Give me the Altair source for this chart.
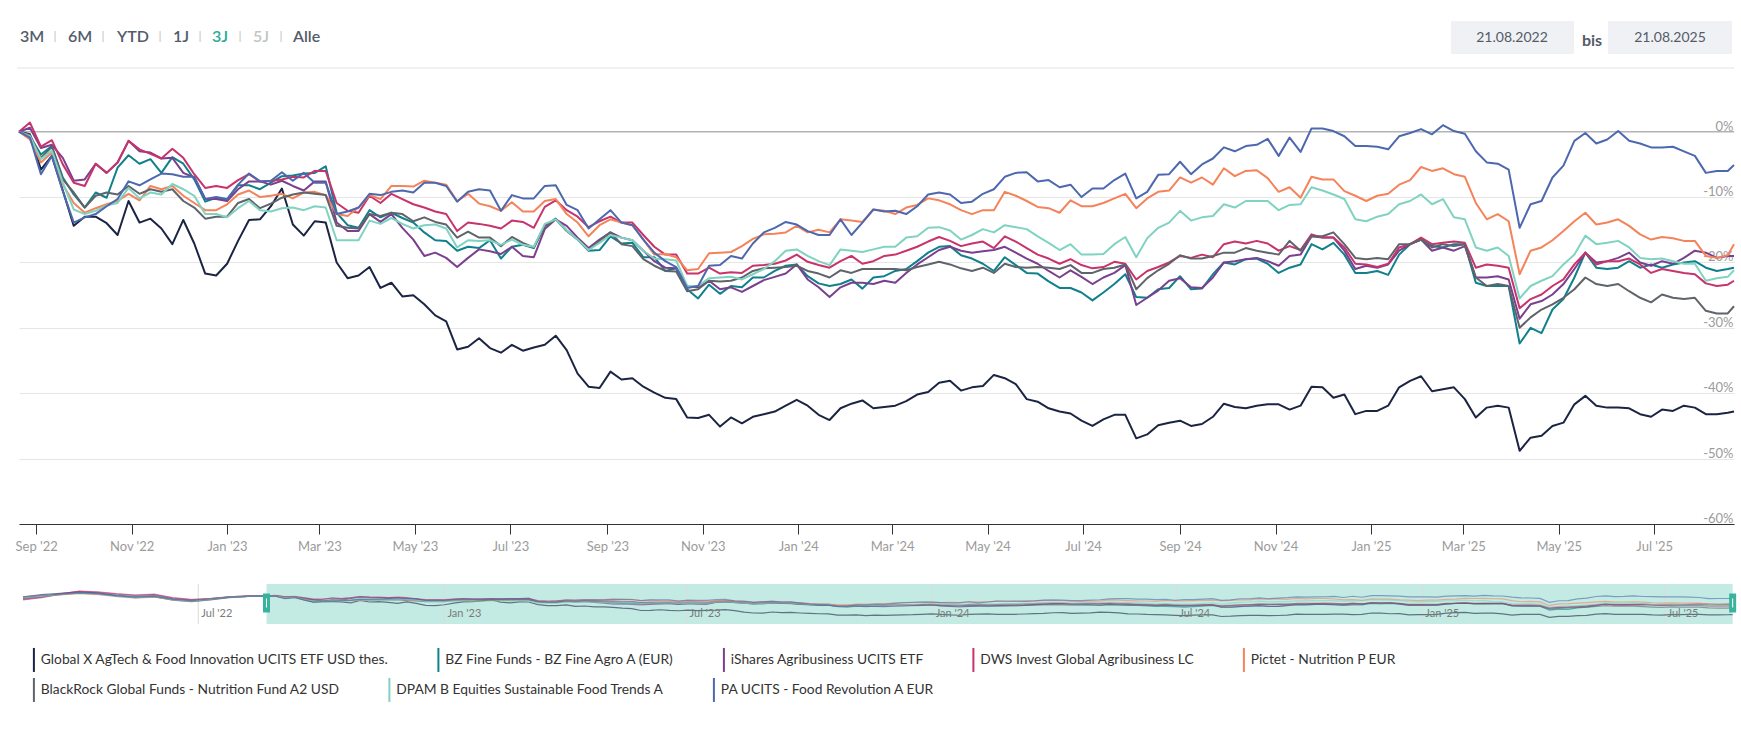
import altair as alt
import pandas as pd

series_names = [
    "Global X AgTech & Food Innovation UCITS ETF USD thes.",
    "BZ Fine Funds - BZ Fine Agro A (EUR)",
    "iShares Agribusiness UCITS ETF",
    "DWS Invest Global Agribusiness LC",
    "Pictet - Nutrition P EUR",
    "BlackRock Global Funds - Nutrition Fund A2 USD",
    "DPAM B Equities Sustainable Food Trends A",
    "PA UCITS - Food Revolution A EUR",
]
series_colors = ["#1b2543", "#10808c", "#7b3f8f", "#c8336b", "#f5835a", "#5f646b", "#80d3c1", "#4d68ae"]
legend_row_split = 5  # first legend row holds the first five funds

start_date = "2022-08-21"
week_count = 157
end_date = "2025-08-21"

global_x = [0, -0.4, -5.8, -3.7, -9.0, -14.4, -13.0, -13.0, -14.0, -15.8, -10.6, -13.9, -13.3, -14.8, -17.2, -13.5, -17.1, -21.7, -22.0, -20.2, -16.7, -13.5, -13.4, -11.4, -8.7, -14.2, -15.9, -13.7, -13.9, -20.0, -22.4, -22.0, -20.7, -23.9, -23.1, -25.2, -25.0, -26.4, -28.1, -29.0,
            -33.3, -32.9, -31.6, -33.1, -33.8, -32.6, -33.5, -33.0, -32.6, -31.2, -33.4, -37.0, -39.0, -39.2, -36.7, -37.9, -37.7, -39.0, -39.9, -40.7, -40.9, -43.7, -43.8, -43.3, -45.1, -43.7, -44.6, -43.6, -43.2, -42.8, -41.9, -41.0, -41.9, -43.3, -44.1, -42.3, -41.6, -41.1, -42.3, -42.1,
            -41.9, -41.2, -40.2, -39.8, -38.4, -38.1, -39.6, -39.1, -38.9, -37.2, -37.7, -38.6, -40.9, -41.3, -42.3, -42.8, -43.1, -44.2, -45.0, -44.0, -43.3, -43.3, -46.9, -46.3, -44.9, -44.5, -44.2, -45.0, -44.7, -43.6, -41.6, -42.1, -42.3, -41.9, -41.7, -41.7, -42.5, -41.9, -39.0, -39.1,
            -40.7, -40.2, -43.2, -42.7, -42.7, -41.9, -39.1, -38.1, -37.4, -39.7, -39.4, -39.1, -40.9, -43.7, -42.2, -41.9, -42.2, -48.8, -46.8, -46.5, -45.0, -44.5, -41.7, -40.4, -41.9, -42.2, -42.2, -42.3, -43.2, -43.6, -42.5, -42.7, -41.9, -42.2, -43.2, -43.2, -43.0, -42.8]
bz_fine = [0, -0.7, -3.5, -2.2, -7.0, -9.6, -11.6, -9.3, -10.1, -5.5, -3.6, -4.9, -4.2, -6.3, -3.9, -4.9, -7.3, -10.7, -10.1, -10.4, -8.2, -8.2, -8.8, -7.8, -6.8, -6.7, -6.4, -6.3, -5.3, -12.4, -14.3, -14.7, -12.0, -13.1, -12.4, -13.2, -13.9, -15.4, -16.6, -16.7,
           -18.2, -17.6, -17.8, -16.6, -19.4, -17.6, -17.3, -17.8, -14.4, -13.3, -15.1, -16.5, -18.2, -18.1, -16.0, -17.1, -17.0, -19.2, -19.2, -21.3, -20.9, -24.1, -25.5, -23.4, -24.8, -23.6, -23.8, -22.3, -22.3, -21.3, -20.5, -20.3, -22.1, -23.2, -23.6, -23.3, -22.6, -24.0, -22.3, -22.1,
           -21.3, -21.0, -19.8, -18.5, -17.6, -17.5, -18.9, -19.4, -20.2, -21.3, -19.2, -20.4, -21.6, -21.7, -22.9, -23.9, -23.9, -24.6, -25.8, -24.6, -23.3, -21.8, -25.3, -25.4, -24.1, -23.9, -22.1, -24.1, -24.0, -21.8, -20.0, -20.3, -19.5, -19.4, -20.2, -21.6, -20.8, -20.3, -17.2, -18.0,
           -17.0, -18.8, -21.6, -21.6, -21.3, -21.9, -18.8, -17.2, -16.5, -17.5, -17.7, -17.2, -17.2, -23.1, -23.6, -23.6, -23.6, -32.4, -30.0, -30.8, -27.2, -25.6, -22.3, -18.5, -20.8, -21.0, -20.8, -19.8, -20.8, -20.3, -20.8, -20.3, -20.0, -19.8, -20.8, -21.3, -21.0, -20.8]
ishares = [0, 0.6, -2.5, -2.0, -4.0, -7.5, -7.3, -4.9, -6.3, -4.7, -1.4, -3.0, -3.2, -4.1, -4.0, -6.3, -7.0, -10.3, -10.3, -10.6, -8.8, -7.6, -7.6, -8.1, -7.5, -8.3, -9.0, -7.6, -7.6, -13.9, -15.2, -15.2, -12.6, -13.8, -12.6, -14.7, -16.5, -19.0, -18.5, -19.3,
           -20.7, -19.3, -18.0, -18.3, -18.7, -17.6, -19.0, -19.2, -14.9, -13.4, -14.4, -16.2, -17.8, -16.5, -15.4, -16.2, -16.6, -18.2, -19.8, -20.8, -20.9, -23.6, -23.8, -22.8, -24.1, -23.8, -24.5, -23.6, -22.7, -22.2, -21.7, -20.3, -22.6, -23.8, -25.3, -23.8, -23.1, -23.1, -23.3, -22.8,
           -23.1, -21.6, -20.3, -19.2, -18.1, -17.6, -18.2, -18.5, -18.3, -18.1, -17.6, -18.5, -19.4, -20.2, -21.3, -22.3, -21.2, -22.2, -23.3, -22.3, -21.6, -20.4, -26.5, -25.4, -24.3, -22.8, -22.4, -23.8, -23.9, -22.3, -20.0, -19.8, -19.5, -19.3, -19.8, -20.5, -19.0, -18.8, -16.0, -16.2,
           -16.2, -18.2, -21.0, -20.5, -20.8, -20.3, -18.2, -17.2, -16.5, -18.2, -17.7, -18.2, -17.5, -22.3, -22.3, -22.1, -22.6, -28.6, -26.4, -25.9, -24.9, -23.3, -21.0, -18.5, -20.0, -19.8, -19.3, -18.5, -20.0, -20.5, -19.8, -20.2, -19.3, -18.2, -18.5, -19.3, -19.0, -19.0]
dws = [0, 1.4, -2.3, -1.3, -5.0, -7.8, -8.3, -4.9, -6.3, -4.7, -1.4, -2.7, -3.4, -4.1, -2.6, -4.0, -6.5, -8.6, -8.3, -8.6, -7.4, -6.5, -7.6, -7.5, -7.3, -6.9, -7.0, -6.0, -6.0, -10.9, -12.1, -12.4, -9.8, -10.9, -9.5, -10.3, -11.1, -11.6, -12.2, -12.6,
       -15.2, -13.9, -14.1, -14.4, -14.8, -13.6, -13.8, -14.7, -11.5, -10.5, -12.0, -13.0, -14.6, -13.7, -13.0, -13.9, -13.9, -15.8, -17.6, -18.8, -18.8, -21.7, -21.7, -20.8, -21.7, -21.5, -21.6, -20.5, -20.4, -20.2, -19.7, -18.8, -19.9, -20.4, -20.8, -19.8, -19.0, -20.2, -19.8, -19.0,
       -18.8, -18.2, -17.6, -16.8, -16.1, -16.7, -17.5, -17.1, -16.8, -17.8, -16.0, -16.8, -17.8, -18.8, -19.4, -20.2, -19.5, -20.4, -20.9, -20.7, -19.9, -20.2, -22.6, -21.3, -20.7, -20.0, -19.0, -19.3, -18.8, -19.2, -17.2, -16.8, -17.1, -16.7, -17.1, -18.2, -17.5, -18.1, -15.7, -16.2,
       -16.2, -17.7, -20.2, -20.3, -20.7, -20.2, -17.7, -17.2, -16.2, -17.2, -17.0, -16.8, -17.0, -20.8, -20.3, -20.5, -20.8, -27.0, -25.6, -24.9, -23.6, -22.6, -20.3, -18.5, -20.3, -19.8, -19.8, -19.4, -20.3, -21.6, -21.0, -21.3, -21.6, -21.8, -23.2, -23.6, -23.4, -22.8]
pictet = [0, -1.2, -4.7, -3.2, -8.1, -10.9, -12.4, -11.7, -11.1, -10.6, -9.5, -10.5, -8.3, -8.8, -8.3, -9.8, -10.9, -12.0, -12.0, -11.1, -9.6, -9.0, -10.0, -9.8, -9.5, -10.2, -9.3, -9.2, -9.7, -12.6, -12.9, -11.6, -9.7, -10.3, -8.3, -8.3, -8.4, -7.5, -7.8, -8.1,
          -10.6, -9.5, -11.0, -11.4, -12.1, -10.8, -12.2, -12.2, -10.6, -10.3, -12.6, -13.9, -16.0, -14.3, -13.4, -13.9, -14.3, -16.5, -18.8, -18.7, -19.2, -21.2, -21.0, -18.6, -18.5, -18.4, -17.5, -16.4, -15.7, -15.6, -15.4, -14.4, -15.4, -15.0, -15.4, -13.4, -13.6, -13.8, -11.9, -12.1,
          -12.6, -11.6, -11.2, -10.2, -10.5, -11.1, -12.0, -12.6, -12.0, -12.0, -9.2, -9.8, -10.6, -11.5, -11.7, -12.4, -10.5, -11.4, -11.4, -10.9, -10.2, -9.5, -11.7, -10.2, -9.2, -9.0, -7.0, -7.8, -7.0, -8.1, -5.6, -6.8, -6.0, -5.9, -7.1, -9.2, -8.5, -10.1, -6.9, -7.3,
          -7.3, -9.1, -9.8, -10.6, -9.8, -9.5, -8.1, -7.4, -5.4, -6.0, -5.6, -6.5, -6.9, -10.9, -13.4, -12.6, -13.7, -21.8, -18.2, -17.7, -16.6, -15.2, -13.7, -12.4, -14.2, -13.9, -13.4, -14.4, -15.7, -16.5, -16.1, -16.3, -16.7, -16.7, -19.0, -19.3, -18.9, -17.2]
blackrock = [0, -0.5, -4.0, -2.3, -7.3, -9.3, -11.6, -9.8, -9.3, -9.6, -8.3, -9.5, -8.8, -9.2, -8.8, -10.6, -11.6, -13.3, -13.0, -13.0, -10.9, -10.3, -11.7, -11.0, -10.1, -9.6, -9.3, -9.5, -9.7, -14.4, -14.7, -14.8, -12.6, -12.9, -12.4, -12.6, -13.7, -13.1, -13.8, -14.2,
             -16.2, -15.3, -16.2, -16.2, -17.5, -16.1, -17.0, -17.7, -14.4, -13.4, -15.2, -16.5, -18.1, -16.7, -15.4, -17.2, -17.5, -19.5, -20.5, -21.3, -21.4, -24.4, -24.1, -22.8, -22.9, -22.8, -22.3, -21.3, -20.9, -20.8, -20.7, -20.5, -21.3, -21.7, -22.3, -21.2, -21.6, -21.0, -21.0, -21.0,
             -21.0, -21.2, -20.7, -20.3, -19.9, -20.3, -20.9, -21.3, -20.8, -21.6, -20.2, -20.7, -20.8, -20.7, -20.8, -21.0, -20.4, -21.6, -21.6, -21.0, -20.8, -20.3, -24.1, -22.4, -21.2, -20.2, -18.9, -19.4, -19.4, -19.0, -18.5, -18.5, -17.8, -18.2, -18.5, -18.8, -16.7, -18.2, -16.0, -16.0,
             -15.4, -17.2, -19.3, -19.5, -19.3, -19.5, -17.2, -17.2, -16.5, -17.7, -17.2, -17.5, -17.2, -22.3, -23.6, -23.3, -23.6, -30.0, -28.4, -27.2, -26.4, -25.4, -24.1, -22.3, -23.3, -23.6, -23.3, -24.4, -25.4, -26.1, -24.9, -25.4, -25.6, -25.4, -27.4, -27.8, -27.8, -26.7]
dpam = [0, -0.7, -4.2, -2.9, -7.8, -11.9, -12.6, -12.1, -11.3, -10.9, -8.6, -10.2, -9.3, -9.6, -8.0, -8.8, -9.8, -12.6, -12.6, -13.1, -11.7, -10.6, -12.0, -12.2, -11.7, -11.6, -12.0, -11.4, -11.6, -16.6, -16.6, -16.6, -13.6, -14.1, -13.2, -14.1, -14.8, -14.3, -14.2, -14.8,
        -17.7, -16.6, -16.7, -16.6, -17.3, -16.5, -17.3, -17.6, -14.1, -13.4, -15.1, -16.5, -18.1, -17.0, -15.8, -16.2, -16.6, -18.2, -19.4, -19.5, -19.7, -23.6, -23.6, -22.4, -22.3, -22.2, -22.6, -21.8, -21.0, -19.8, -18.2, -18.0, -19.0, -19.8, -20.4, -18.0, -18.2, -18.4, -18.0, -17.6,
        -17.6, -16.2, -16.0, -14.7, -14.6, -15.1, -16.5, -15.8, -14.9, -15.4, -14.3, -14.6, -14.9, -16.0, -17.0, -18.1, -17.2, -18.8, -18.8, -18.7, -17.2, -16.1, -19.2, -16.3, -14.7, -13.9, -12.1, -13.6, -13.1, -12.9, -11.1, -11.6, -10.6, -10.6, -10.6, -12.0, -11.2, -11.1, -8.5, -9.0,
        -9.6, -10.3, -13.4, -13.7, -13.0, -12.6, -11.1, -10.6, -9.6, -11.1, -10.3, -13.1, -13.4, -17.7, -18.2, -17.7, -19.0, -25.5, -23.6, -22.8, -22.1, -20.3, -18.8, -15.9, -17.2, -17.0, -16.7, -17.7, -19.3, -19.5, -19.4, -19.8, -20.2, -20.2, -22.8, -22.4, -22.2, -21.2]
pa_ucits = [0, -0.9, -6.5, -3.7, -9.1, -13.9, -13.1, -12.6, -11.4, -10.3, -7.6, -8.2, -7.3, -6.4, -6.5, -6.9, -6.9, -10.3, -10.0, -10.3, -8.1, -6.4, -7.6, -7.5, -6.2, -7.5, -6.3, -7.8, -7.8, -12.6, -12.2, -11.6, -9.5, -9.7, -9.2, -9.0, -9.3, -7.8, -7.8, -8.3,
            -10.7, -9.2, -8.8, -9.0, -12.1, -9.7, -10.2, -10.2, -8.3, -8.2, -11.2, -12.0, -14.8, -13.4, -12.0, -13.9, -14.3, -16.5, -18.5, -19.8, -20.7, -23.9, -23.6, -20.5, -20.4, -19.0, -19.4, -17.1, -15.4, -14.7, -13.8, -14.2, -15.2, -15.8, -15.8, -13.4, -15.8, -13.9, -11.9, -12.2,
            -12.1, -12.6, -11.4, -9.6, -9.3, -9.6, -10.9, -10.7, -9.5, -8.8, -6.9, -6.3, -6.2, -7.6, -7.4, -8.5, -8.1, -10.0, -8.7, -8.7, -7.4, -6.4, -10.2, -9.2, -6.6, -6.5, -4.6, -6.5, -5.0, -4.1, -2.4, -3.0, -2.2, -2.0, -1.1, -3.7, -0.9, -3.1, 0.5, 0.5,
            0.1, -0.7, -2.2, -2.2, -2.3, -2.7, -0.7, -0.2, 0.4, -0.4, 1.0, 0.1, -0.3, -3.0, -4.7, -4.9, -5.8, -14.7, -11.1, -10.6, -7.0, -5.2, -1.4, -0.2, -1.8, -1.2, 0.1, -1.4, -1.8, -2.4, -2.4, -2.3, -3.0, -3.7, -6.3, -6.0, -6.0, -5.1]

# navigator history before the selected range
pre_dates = ["2022-02-20", "2022-03-06", "2022-03-20", "2022-04-03", "2022-04-17", "2022-05-01", "2022-05-15",
             "2022-05-29", "2022-06-12", "2022-06-26", "2022-07-10", "2022-07-24", "2022-08-07"]
pre_global_x = [-2, 3, 6, 9, 7, 0, -4, -2, -10, -13, -9, -4, -1]
pre_bz_fine = [-6, -2, 4, 8, 6, 2, -1, 1, -7, -10, -7, -3, -1]
pre_ishares = [-8, -3, 5, 10, 8, 4, 1, 3, -5, -9, -6, -2, 0]
pre_dws = [-9, -4, 4, 11, 9, 5, 2, 4, -4, -8, -6, -2, 0]
pre_pictet = [-3, 0, 2, 5, 3, -2, -5, -3, -9, -11, -7, -3, -1]
pre_blackrock = [-5, -2, 3, 6, 4, 0, -3, -1, -8, -11, -8, -3, -1]
pre_dpam = [-4, -1, 3, 6, 4, -1, -4, -2, -9, -12, -8, -3, -1]
pre_pa_ucits = [-3, 1, 4, 7, 5, 0, -3, -1, -8, -11, -7, -3, -1]

x_tick_dates = ["2022-09-01", "2022-11-01", "2023-01-01", "2023-03-01", "2023-05-01", "2023-07-01",
                "2023-09-01", "2023-11-01", "2024-01-01", "2024-03-01", "2024-05-01", "2024-07-01",
                "2024-09-01", "2024-11-01", "2025-01-01", "2025-03-01", "2025-05-01", "2025-07-01"]
y_tick_values = [-60, -50, -40, -30, -20, -10, 0]
nav_label_dates = ["2022-07-01", "2023-01-01", "2023-07-01", "2024-01-01", "2024-07-01", "2025-01-01", "2025-07-01"]
range_buttons = ["3M", "6M", "YTD", "1J", "3J", "5J", "Alle"]
range_from, range_to, range_word = "21.08.2022", "21.08.2025", "bis"

# ---------------------------------------------------------------- data frames
main_dates = list(pd.date_range(start_date, periods=week_count, freq="7D")) + [pd.Timestamp(end_date)]
main_dates = [d.strftime("%Y-%m-%dT00:00:00") for d in main_dates]
all_main = [global_x, bz_fine, ishares, dws, pictet, blackrock, dpam, pa_ucits]
all_pre = [pre_global_x, pre_bz_fine, pre_ishares, pre_dws, pre_pictet, pre_blackrock, pre_dpam, pre_pa_ucits]

rows, nav_rows = [], []
for name, vals, pre in zip(series_names, all_main, all_pre):
    assert len(vals) == len(main_dates), (name, len(vals), len(main_dates))
    assert len(pre) == len(pre_dates)
    for d, v in zip(pre_dates, pre):
        nav_rows.append({"date": d + "T00:00:00", "series": name, "value": v})
    for d, v in zip(main_dates, vals):
        rows.append({"date": d, "series": name, "value": v})
        nav_rows.append({"date": d, "series": name, "value": v})
main_df = pd.DataFrame(rows)
nav_df = pd.DataFrame(nav_rows)
names_a, names_b = series_names[:legend_row_split], series_names[legend_row_split:]
colors_a, colors_b = series_colors[:legend_row_split], series_colors[legend_row_split:]
main_df_a = main_df[main_df["series"].isin(names_a)]
main_df_b = main_df[main_df["series"].isin(names_b)]


def dt(s):
    y, m, d = (int(p) for p in s.split("-"))
    return alt.DateTime(year=y, month=m, date=d)


FONT = "Lato"
LABEL_GREY = "#9b9b9b"


def legend_row(y):
    return alt.Legend(title=None, orient="none", legendX=8, legendY=y, direction="horizontal",
                      columnPadding=42.5)


color_a = alt.Color("series:N", scale=alt.Scale(domain=names_a, range=colors_a), legend=legend_row(554))
color_b = alt.Color("series:N", scale=alt.Scale(domain=names_b, range=colors_b), legend=legend_row(584))

x_main = alt.X("date:T", scale=alt.Scale(domain=[dt(start_date), dt(end_date)]),
               axis=alt.Axis(values=[dt(s) for s in x_tick_dates], format="%b '%y", title=None, grid=False,
                             labelColor=LABEL_GREY, labelFont=FONT, labelFontSize=13, labelPadding=6,
                             tickSize=10, tickColor="#333333", domainColor="#333333",
                             labelFlush=False, labelOverlap=False))
y_main = alt.Y("value:Q", scale=alt.Scale(domain=[-60, 5], nice=False, zero=False),
               axis=alt.Axis(orient="right", values=y_tick_values, labelExpr="datum.value + '%'", title=None,
                             grid=True, gridColor="#e6e6e6", domain=False, ticks=False, tickSize=0,
                             labelPadding=-1, labelAlign="right", labelBaseline="alphabetic", labelOffset=-1.5,
                             labelColor=LABEL_GREY, labelFont=FONT, labelFontSize=13))

zero_line = alt.Chart(pd.DataFrame({"value": [0]})).mark_rule(color="#b3b3b3", strokeWidth=1.2).encode(y=y_main)
lines_a = alt.Chart(main_df_a).mark_line(strokeWidth=2, strokeJoin="round").encode(
    x=x_main, y=y_main, color=color_a)
lines_b = alt.Chart(main_df_b).mark_line(strokeWidth=2, strokeJoin="round").encode(
    x=x_main, y=y_main, color=color_b)
main_group = alt.layer(zero_line, lines_a, lines_b).resolve_scale(color="independent")

# ---------------------------------------------------------------- navigator
NAV_TOP, NAV_BOTTOM = 485, 525
nav_x_scale = alt.Scale(domain=[dt("2022-02-17"), dt("2025-08-22")])
nav_x = alt.X("date:T", scale=nav_x_scale, axis=None)

sel_df = pd.DataFrame({"date": [start_date + "T00:00:00"], "date2": [end_date + "T00:00:00"]})
handle_df = pd.DataFrame({"date": [start_date + "T00:00:00", end_date + "T00:00:00"]})
nav_lab_df = pd.DataFrame({"date": [d + "T00:00:00" for d in nav_label_dates]})

nav_bg = alt.Chart(sel_df).mark_rect(color="#c4ebe3").encode(
    x=nav_x, x2="date2:T", y=alt.value(NAV_TOP), y2=alt.value(NAV_BOTTOM))
nav_grid = alt.Chart(nav_lab_df).mark_rule(color="#d6dedc", strokeWidth=1).encode(
    x=nav_x, y=alt.value(NAV_TOP), y2=alt.value(NAV_BOTTOM))
nav_lines = alt.Chart(nav_df).mark_line(strokeWidth=1.2, opacity=0.6).encode(
    x=nav_x,
    y=alt.Y("value:Q", scale=alt.Scale(domain=[-64, 27], range=[NAV_BOTTOM, NAV_TOP], nice=False, zero=False),
            axis=None),
    color=alt.Color("series:N", scale=alt.Scale(domain=series_names, range=series_colors), legend=None))
nav_labels = alt.Chart(nav_lab_df).mark_text(align="left", baseline="alphabetic", dx=3, font=FONT,
                                             fontSize=11, color="#7a7a7a").encode(
    x=nav_x, y=alt.value(518), text=alt.Text("date:T", format="%b '%y"))
handles = alt.Chart(handle_df).mark_tick(thickness=7, size=19, color="#3ab39c", opacity=1).encode(
    x=nav_x, y=alt.value(504))
handle_lines = alt.Chart(handle_df).mark_tick(thickness=1, size=9, color="#ffffff", opacity=1).encode(
    x=nav_x, y=alt.value(504))
nav_group = alt.layer(nav_bg, nav_grid, nav_lines, nav_labels, handles, handle_lines)

# ---------------------------------------------------------------- header (UI)
one = alt.InlineData(values=[{}])


def ui_text(txt, x, y, **kw):
    return alt.Chart(one).mark_text(text=txt, font=FONT, **kw).encode(x=alt.value(x), y=alt.value(y))


def ui_rect(x, x2, y, y2, color):
    return alt.Chart(one).mark_rect(color=color).encode(
        x=alt.value(x), x2=alt.value(x2), y=alt.value(y), y2=alt.value(y2))


ui = []
btn_x = [1, 49, 98, 154, 193, 234, 274]
btn_colors = ["#545c6a", "#545c6a", "#545c6a", "#545c6a", "#2aa997", "#c4c4c4", "#545c6a"]
for t, bx, bc in zip(range_buttons, btn_x, btn_colors):
    ui.append(ui_text(t, bx, -62, align="left", baseline="middle", fontSize=16, fontWeight=600, color=bc))
for sx in [36, 84, 141, 181, 221, 262]:
    ui.append(ui_text("|", sx, -63, align="center", baseline="middle", fontSize=12, color="#c0c0c0"))
ui.append(ui_rect(1432, 1555, -78, -45, "#eff1f5"))
ui.append(ui_rect(1589, 1713, -78, -45, "#eff1f5"))
ui.append(ui_text(range_from, 1493, -61, align="center", baseline="middle", fontSize=14, color="#555b66"))
ui.append(ui_text(range_to, 1651, -61, align="center", baseline="middle", fontSize=14, color="#555b66"))
ui.append(ui_text(range_word, 1573, -58, align="center", baseline="middle", fontSize=16, fontWeight="bold",
                  color="#555b66"))
ui.append(alt.Chart(one).mark_rule(color="#e3e3e3", strokeWidth=1).encode(
    x=alt.value(-2), x2=alt.value(1715), y=alt.value(-31)))

chart = alt.layer(main_group, nav_group, *ui).resolve_scale(
    x="independent", y="independent", color="independent"
).properties(
    width=1715, height=425,
    autosize=alt.AutoSizeParams(type="none"),
    padding={"left": 19, "top": 99, "right": 7, "bottom": 211},
    background="#ffffff",
).configure_view(strokeWidth=0).configure_legend(
    padding=0, labelFont=FONT, labelFontSize=13.8, labelColor="#333333", labelLimit=0,
    symbolType="M0,-12L0,12", symbolSize=4, symbolStrokeWidth=2, symbolOpacity=1, labelOffset=0,
)

chart.save("out.html", embed_options={"renderer": "svg", "actions": False})
